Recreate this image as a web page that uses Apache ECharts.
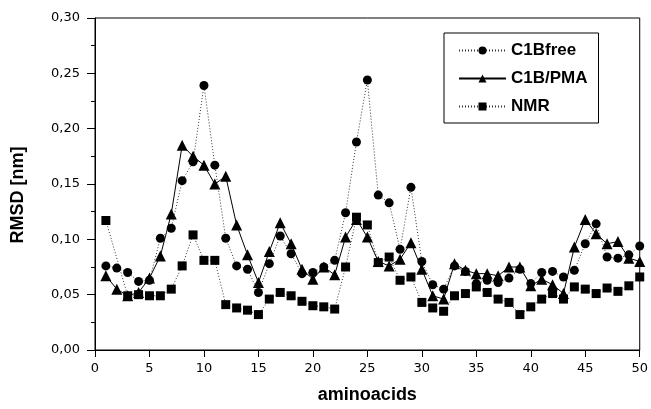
<!DOCTYPE html>
<html>
<head>
<meta charset="utf-8">
<script src="https://cdn.jsdelivr.net/npm/echarts@6/dist/echarts.min.js"></script>
<style>
html, body { margin: 0; padding: 0; background: #fff; }
#chart { width: 651px; height: 409px; }
</style>
</head>
<body>
<div id="chart"></div>
<script>
var residues = [1,2,3,4,5,6,7,8,9,10,11,12,13,14,15,16,17,18,19,20,21,22,23,24,25,
  26,27,28,29,30,31,32,33,34,35,36,37,38,39,40,41,42,43,44,45,46,47,48,49,50];

var c1bFree = [0.076,0.074,0.070,0.062,0.063,0.101,0.110,0.153,0.170,0.239,
  0.167,0.101,0.076,0.073,0.052,0.078,0.103,0.087,0.069,0.070,
  0.075,0.081,0.124,0.188,0.244,0.140,0.133,0.091,0.147,0.080,
  0.059,0.055,0.076,0.071,0.060,0.063,0.061,0.065,0.073,0.060,
  0.070,0.071,0.066,0.072,0.096,0.114,0.084,0.083,0.086,0.094];

var c1bPma = [0.067,0.055,0.049,0.052,0.065,0.085,0.123,0.185,0.175,0.167,
  0.150,0.157,0.113,0.086,0.061,0.089,0.115,0.096,0.073,0.064,
  0.075,0.068,0.102,0.118,0.102,0.080,0.076,0.082,0.097,0.073,
  0.049,0.046,0.078,0.072,0.069,0.069,0.067,0.075,0.075,0.058,
  0.064,0.059,0.051,0.093,0.118,0.105,0.096,0.098,0.083,0.080];

// no NMR value shown for residue 2
var nmr = [0.117,null,0.049,0.050,0.049,0.049,0.055,0.076,0.104,0.081,
  0.081,0.041,0.038,0.036,0.032,0.046,0.052,0.049,0.044,0.040,
  0.039,0.037,0.075,0.120,0.113,0.079,0.084,0.063,0.066,0.043,
  0.038,0.035,0.049,0.051,0.057,0.052,0.046,0.043,0.032,0.039,
  0.046,0.051,0.046,0.057,0.055,0.051,0.056,0.053,0.058,0.066];

function pairs(vals) {
  return vals.map(function (v, i) { return [residues[i], v]; });
}

var dom = document.getElementById('chart');
var myChart = echarts.init(dom, null, { renderer: 'canvas' });
var tickFont = 'DejaVu Sans, sans-serif';
var titleFont = 'Liberation Sans, Arial, sans-serif';

option = {
  animation: false,
  backgroundColor: '#fff',
  grid: {
    left: 95, right: 10, top: 18, bottom: 56,
    show: true, borderColor: '#000', borderWidth: 1
  },
  legend: {
    orient: 'vertical',
    left: 444, top: 33,
    padding: [9, 11, 8, 14],
    itemGap: 11,
    itemWidth: 47,
    itemHeight: 10,
    borderColor: '#000',
    borderWidth: 1,
    textStyle: { fontFamily: titleFont, fontSize: 17, fontWeight: 'bold', color: '#000' },
    data: ['C1Bfree', 'C1B/PMA', 'NMR']
  },
  xAxis: {
    type: 'value',
    min: 0, max: 50, interval: 5,
    name: 'aminoacids',
    nameLocation: 'middle',
    nameGap: 36,
    nameTextStyle: { fontFamily: titleFont, fontSize: 18, fontWeight: 'bold', color: '#000' },
    axisLine: { lineStyle: { color: '#000', width: 1 } },
    axisTick: { length: 7, lineStyle: { color: '#000' } },
    axisLabel: { fontFamily: tickFont, fontSize: 13, color: '#000', margin: 12 },
    splitLine: { show: false }
  },
  yAxis: {
    type: 'value',
    min: 0, max: 0.30, interval: 0.05,
    name: 'RMSD [nm]',
    nameLocation: 'middle',
    nameGap: 68,
    nameTextStyle: {
      fontFamily: titleFont, fontSize: 18, fontWeight: 'bold', color: '#000',
      padding: [0, 22, 0, 0]
    },
    axisLine: { show: true, lineStyle: { color: '#000', width: 1 } },
    axisTick: { show: true, length: 8, lineStyle: { color: '#000' } },
    minorTick: { show: true, splitNumber: 2, length: 4, lineStyle: { color: '#000' } },
    axisLabel: {
      fontFamily: tickFont, fontSize: 13, color: '#000', margin: 15,
      formatter: function (v) { return v.toFixed(2).replace('.', ','); }
    },
    splitLine: { show: false }
  },
  series: [
    {
      name: 'C1Bfree',
      type: 'line',
      data: pairs(c1bFree),
      symbol: 'circle',
      symbolSize: 9,
      itemStyle: { color: '#000' },
      lineStyle: { color: '#333', width: 1, type: [1, 2] },
      z: 3
    },
    {
      name: 'C1B/PMA',
      type: 'line',
      data: pairs(c1bPma),
      symbol: 'triangle',
      symbolSize: 11,
      itemStyle: { color: '#000' },
      lineStyle: { color: '#000', width: 1, type: 'solid' },
      z: 2
    },
    {
      name: 'NMR',
      type: 'line',
      data: pairs(nmr),
      connectNulls: true,
      symbol: 'rect',
      symbolSize: 9,
      itemStyle: { color: '#000' },
      lineStyle: { color: '#333', width: 1, type: [1, 2] },
      z: 1
    }
  ]
};
myChart.setOption(option, true);
</script>
</body>
</html>
